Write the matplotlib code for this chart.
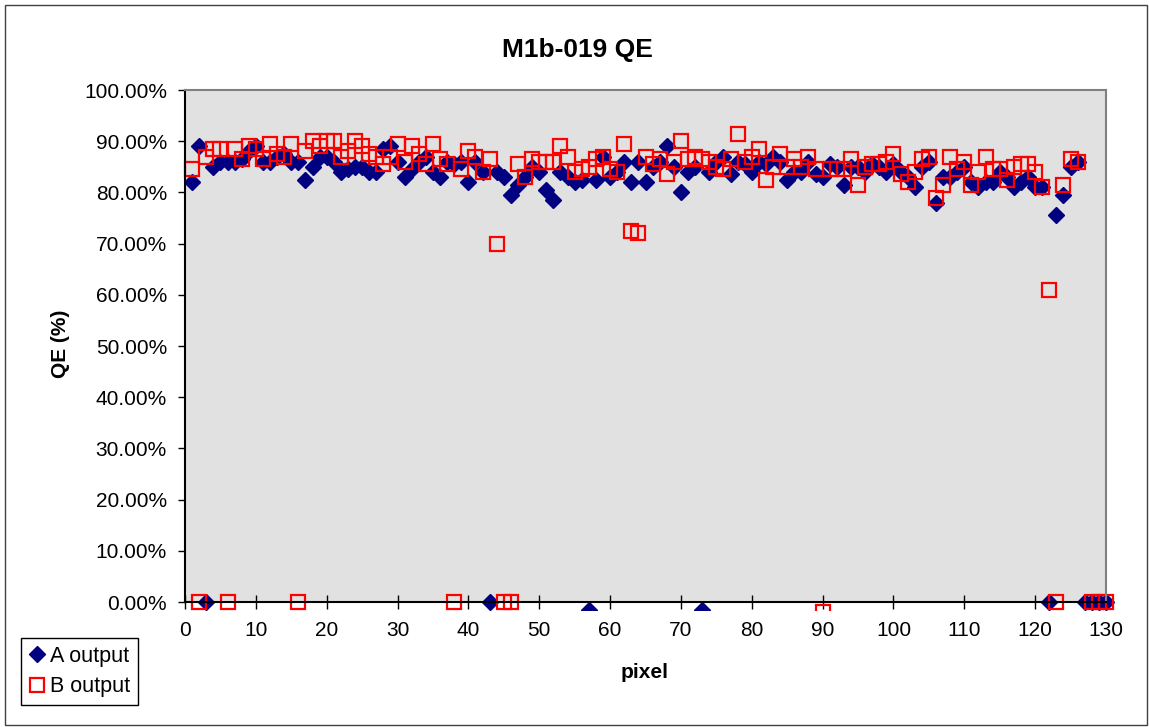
import numpy as np
import matplotlib
matplotlib.use('Agg')
import matplotlib.pyplot as plt
from matplotlib.patches import Rectangle
from matplotlib.ticker import FuncFormatter

plt.rcParams['font.family'] = ['Liberation Sans', 'DejaVu Sans']

#pixel index 1..130
pixels = np.arange(1, 131)

#A output QE in %
a_output = [82, 89, 0, 85, 86, 86, 86, 86.5, 88, 89,
            86, 86, 87, 87.5, 86, 86, 82.5, 85, 87, 87,
            86, 84, 84.5, 85, 85, 84, 84, 88.5, 89, 86,
            83, 84.5, 86, 87, 84, 83, 86, 85.5, 86, 82,
            86, 84, 0, 84, 83, 79.5, 81.5, 83, 85, 84,
            80.5, 78.5, 84, 83, 82, 82.5, -1.5, 82.5, 87, 83,
            84, 86, 82, 86, 82, 85, 86, 89, 85, 80,
            84, 85, -1.5, 84, 86, 87, 83.5, 86, 85.5, 84,
            86, 85.5, 87, 86, 82.5, 84, 84, 86, 83.5, 83,
            85.5, 85, 81.5, 85, 85, 84, 85.5, 85, 84, 85.5,
            84, 83, 81, 85, 86, 78, 83, 83, 84, 85,
            82, 81, 82, 82, 84, 83, 81, 82, 83, 81,
            81, 0, 75.5, 79.5, 85, 86, 0, 0, 0, 0]

#B output QE in %, nan = no point
b_output = [84.5, 0, 87, 88.5, 88.5, 0, 88.5, 86.5, 89, 88.5,
            86.5, 89.5, 87.5, 87, 89.5, 0, 88, 90, 89, 90,
            90, 87, 88, 90, 89, 87.5, 87, 85.5, 87, 89.5,
            86, 89, 87.5, 85.5, 89.5, 86.5, 85.5, 0, 84.5, 88,
            87, 84, 86.5, 70, 0, 0, 85.5, 83, 86.5, 86,
            86, 86, 89, 87, 84, 84.5, 85, 86.5, 87, 84.5,
            84, 89.5, 72.5, 72, 87, 85.5, 86.5, 83.5, 86, 90,
            86.5, 87, 86.5, 86, 85, 84.5, 86.5, 91.5, 86, 87,
            88.5, 82.5, 85, 87.5, 85, 86.5, 85, 87, 84.5, -2,
            84.5, 84.5, 84.5, 86.5, 81.5, 85, 85.5, 85.5, 86, 87.5,
            83.5, 82, 84, 86.5, 87, 79, 81.5, 87, 84.5, 86,
            81.5, 84, 87, 84.5, 84.5, 82.5, 85, 85.5, 85.5, 84,
            81, 61, 0, 81.5, 86.5, 86, np.nan, 0, 0, 0]

W, H = 1149, 727
fig = plt.figure(figsize=(W / 100, H / 100), dpi=100)
ax = fig.add_axes([185 / W, 1 - 602 / H, (1106 - 185) / W, (602 - 90) / H])
ax.set_facecolor('#E1E1E1')

a = np.array(a_output) / 100
b = np.array(b_output) / 100
la, = ax.plot(pixels, a, linestyle='none', marker='D', ms=8, color='#000080',
              label='A output')
lb, = ax.plot(pixels, b, linestyle='none', marker='s', ms=9.5, mfc='none',
              mec='#FF0000', mew=1.6, label='B output')

#let markers hang a little below the axis like excel does
clip = Rectangle((-0.05, -0.016), 1.1, 1.1, transform=ax.transAxes)
for ln in (la, lb):
    ln.set_clip_path(clip)

ax.set_xlim(0, 130)
ax.set_ylim(0, 1)
ax.set_xticks(range(0, 131, 10))
ax.set_yticks(np.arange(0, 1.01, 0.1))
ax.yaxis.set_major_formatter(FuncFormatter(lambda v, p: f'{v * 100:.2f}%'))
ax.tick_params(axis='x', direction='inout', length=10, width=1, pad=9, labelsize=15)
ax.tick_params(axis='y', direction='out', length=5, width=1, pad=8, labelsize=15)

for s in ('left', 'bottom'):
    ax.spines[s].set_color('black')
    ax.spines[s].set_linewidth(1.5)
for s in ('top', 'right'):
    ax.spines[s].set_color('#808080')
    ax.spines[s].set_linewidth(1.5)

fig.text(577 / W, 1 - 50 / H, 'M1b-019 QE', ha='center', va='center',
         fontsize=19, weight='bold')
fig.text(60 / W, 1 - 344 / H, 'QE (%)', ha='center', va='center', rotation=90,
         fontsize=15, weight='bold')
fig.text(645 / W, 1 - 672 / H, 'pixel', ha='center', va='center',
         fontsize=15, weight='bold')

leg = fig.legend(handles=[la, lb], loc='lower left',
                 bbox_to_anchor=(21 / W, 1 - 705 / H), fontsize=15.5,
                 fancybox=False, edgecolor='black', framealpha=1,
                 borderaxespad=0, borderpad=0.35, handlelength=0.8,
                 handletextpad=0.2, labelspacing=0.45)
leg.get_frame().set_linewidth(1)

#outer chart border
fig.add_artist(Rectangle((5 / W, 2 / H), (1147 - 5) / W, (725 - 5) / H,
                         transform=fig.transFigure, fill=False,
                         edgecolor='#404040', lw=1))

fig.savefig('out.png', dpi=100)
